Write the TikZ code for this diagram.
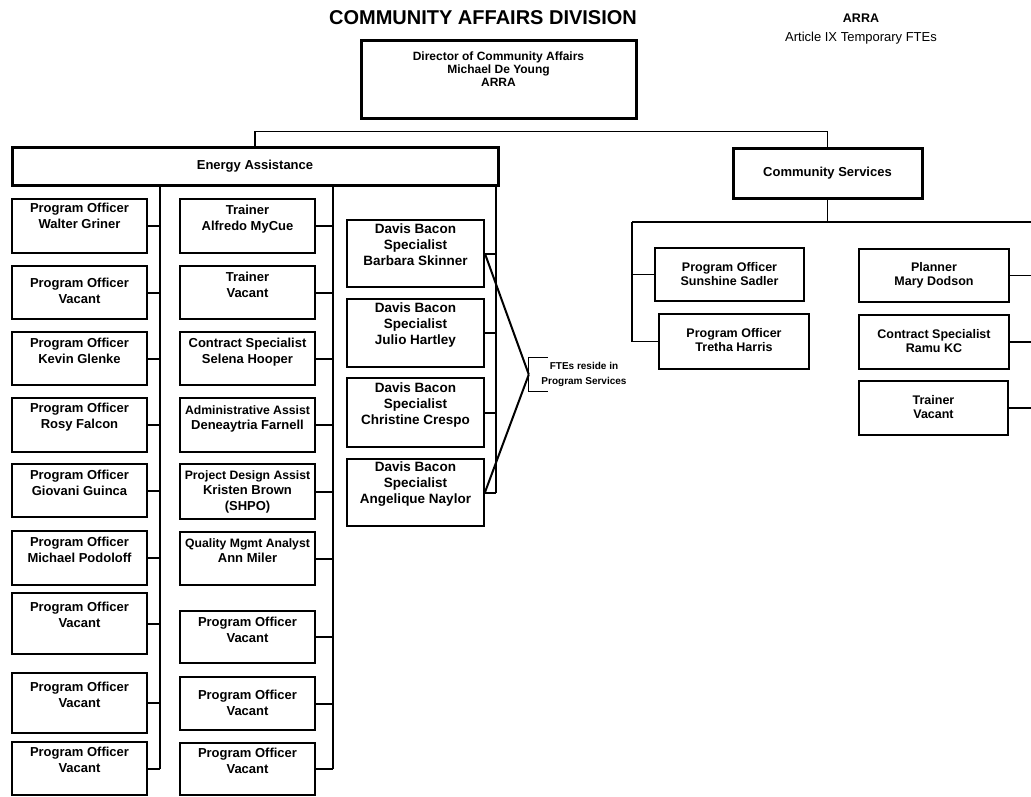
\documentclass[tikz,border=0pt]{standalone}
\usepackage{fontspec}
\setmainfont{Liberation Sans}
\usetikzlibrary{calc}
\newcommand\orgbox[8]{%
  \node[box, minimum width={(#5-#3)*1pt}, minimum height={(#6-#4)*1pt}] (#2) at ({(#3+#5)/2},{(#4+#6)/2}) {};
  \node[#1, anchor=north] (#2t) at ({(#3+#5)/2},#7) {#8};
}
\newcommand\sm[1]{{\fontsize{12.2}{15.5}\selectfont #1}}
\begin{document}
\begin{tikzpicture}[x=1pt,y=-1pt,
  box/.style={draw, line width=1.8pt, inner sep=0pt},
  bigbox/.style={draw, line width=3pt, inner sep=0pt},
  lbl/.style={font=\bfseries\fontsize{13}{15.5}\selectfont, align=center, inner sep=0pt},
  dlbl/.style={font=\bfseries\fontsize{13.5}{16}\selectfont, align=center, inner sep=0pt},
  rlbl/.style={font=\bfseries\fontsize{12.5}{14.5}\selectfont, align=center, inner sep=0pt},
  conn/.style={line width=2pt},
  thin/.style={line width=1.3pt},
  diag/.style={line width=2pt}]
\useasboundingbox (0,0) rectangle (1031,796);

% titles
\node[font=\bfseries\fontsize{20}{22}\selectfont, inner sep=0pt] (title) at (483,18) {COMMUNITY AFFAIRS DIVISION};
\node[font=\bfseries\fontsize{12.5}{14}\selectfont, inner sep=0pt] (arra) at (861,18) {ARRA};
\node[font=\fontsize{13}{15}\selectfont, inner sep=0pt] (art) at (861,38) {Article IX Temporary FTEs};

% top level
\node[bigbox, minimum width=275pt, minimum height=78pt] (dir) at (498.5,79) {};
\node[font=\bfseries\fontsize{12}{13}\selectfont, align=center, inner sep=0pt, anchor=north] (dirt) at (498.5,52) {Director of Community Affairs\\Michael De Young\\ARRA};
\node[bigbox, minimum width=486pt, minimum height=38pt] (energy) at (255,166) {};
\node[lbl] (energyt) at (255,166) {Energy Assistance};
\node[bigbox, minimum width=189pt, minimum height=50pt] (cs) at (827.5,173) {};
\node[lbl] (cst) at (827.5,173) {Community Services};

\draw[thin] (energy.north) -- ++(0,-14) -| (cs.north);

% left column
\orgbox{lbl}{L1}{12}{199}{147}{253}{203}{Program Officer\\Walter Griner}
\orgbox{lbl}{L2}{12}{266}{147}{319}{278}{Program Officer\\Vacant}
\orgbox{lbl}{L3}{12}{332}{147}{385}{338}{Program Officer\\Kevin Glenke}
\orgbox{lbl}{L4}{12}{398}{147}{452}{403}{Program Officer\\Rosy Falcon}
\orgbox{lbl}{L5}{12}{464}{147}{517}{470}{Program Officer\\Giovani Guinca}
\orgbox{lbl}{L6}{12}{531}{147}{585}{537}{Program Officer\\Michael Podoloff}
\orgbox{lbl}{L7}{12}{593}{147}{654}{602}{Program Officer\\Vacant}
\orgbox{lbl}{L8}{12}{673}{147}{733}{682}{Program Officer\\Vacant}
\orgbox{lbl}{L9}{12}{742}{147}{795}{747}{Program Officer\\Vacant}

% middle column
\orgbox{lbl}{M1}{180}{199}{315}{253}{205}{Trainer\\Alfredo MyCue}
\orgbox{lbl}{M2}{180}{266}{315}{319}{272}{Trainer\\Vacant}
\orgbox{lbl}{M3}{180}{332}{315}{385}{338}{Contract Specialist\\Selena Hooper}
\orgbox{lbl}{M4}{180}{398}{315}{452}{405}{\sm{Administrative Assist}\\Deneaytria Farnell}
\orgbox{lbl}{M5}{180}{464}{315}{519}{470}{\sm{Project Design Assist}\\Kristen Brown\\(SHPO)}
\orgbox{lbl}{M6}{180}{532}{315}{585}{538}{\sm{Quality Mgmt Analyst}\\Ann Miler}
\orgbox{lbl}{M7}{180}{611}{315}{663}{617}{Program Officer\\Vacant}
\orgbox{lbl}{M8}{180}{677}{315}{730}{690}{Program Officer\\Vacant}
\orgbox{lbl}{M9}{180}{743}{315}{795}{748}{Program Officer\\Vacant}

% Davis Bacon column
\orgbox{dlbl}{D1}{347}{220}{484}{287}{224}{Davis Bacon\\Specialist\\Barbara Skinner}
\orgbox{dlbl}{D2}{347}{299}{484}{367}{303}{Davis Bacon\\Specialist\\Julio Hartley}
\orgbox{dlbl}{D3}{347}{378}{484}{447}{383}{Davis Bacon\\Specialist\\Christine Crespo}
\orgbox{dlbl}{D4}{347}{459}{484}{526}{462}{Davis Bacon\\Specialist\\Angelique Naylor}

% FTEs note
\node[minimum width=111pt, minimum height=33pt, inner sep=0pt] (fte) at (584.5,374.5) {};
\node[font=\bfseries\fontsize{10}{14.5}\selectfont, align=center, inner sep=0pt] (ftet) at (584,374.5) {FTEs reside in\\Program Services};
\draw[thin] ([xshift=19pt]fte.north west) -- (fte.north west) -- (fte.south west) -- ([xshift=19pt]fte.south west);

% connectors energy assistance
\coordinate (LV) at (160,185);
\coordinate (MV) at (333,185);
\coordinate (RV) at (496,185);
\draw[conn] (LV) -- (LV |- L9.east);
\draw[conn] (MV) -- (MV |- M9.east);
\draw[conn] (RV) -- (RV |- D4.east);
\foreach \n in {L1,L2,L3,L4,L5,L6,L7,L8,L9} {\draw[conn] (\n.east) -- (\n.east -| LV);}
\foreach \n in {M1,M2,M3,M4,M5,M6,M7,M8,M9} {\draw[conn] (\n.east) -- (\n.east -| MV);}
\foreach \n in {D1,D2,D3,D4} {\draw[conn] (\n.east) -- (\n.east -| RV);}
\draw[diag] (D1.east) -- (fte.west);
\draw[diag] (D4.east) -- (fte.west);

% community services
\orgbox{rlbl}{S1}{655}{248}{804}{301}{262}{Program Officer\\Sunshine Sadler}
\orgbox{rlbl}{S2}{659}{314}{809}{369}{328}{Program Officer\\Tretha Harris}
\orgbox{rlbl}{P1}{859}{249}{1009}{302}{262}{Planner\\Mary Dodson}
\orgbox{rlbl}{P2}{859}{315}{1009}{369}{329}{Contract Specialist\\Ramu KC}
\orgbox{rlbl}{P3}{859}{381}{1008}{435}{395}{Trainer\\Vacant}

\coordinate (CH) at (632,222);
\coordinate (CE) at (1031,222);
\draw[thin] (cs.south) -- (cs.south |- CH);
\draw[thin] (CH) -- (CE);
\draw[thin] (CH) |- (S2.west);
\draw[thin] (S1.west) -- (S1.west -| CH);
\foreach \n in {P1,P2,P3} {\draw[thin] (\n.east) -- (\n.east -| CE);}
\end{tikzpicture}
\end{document}
